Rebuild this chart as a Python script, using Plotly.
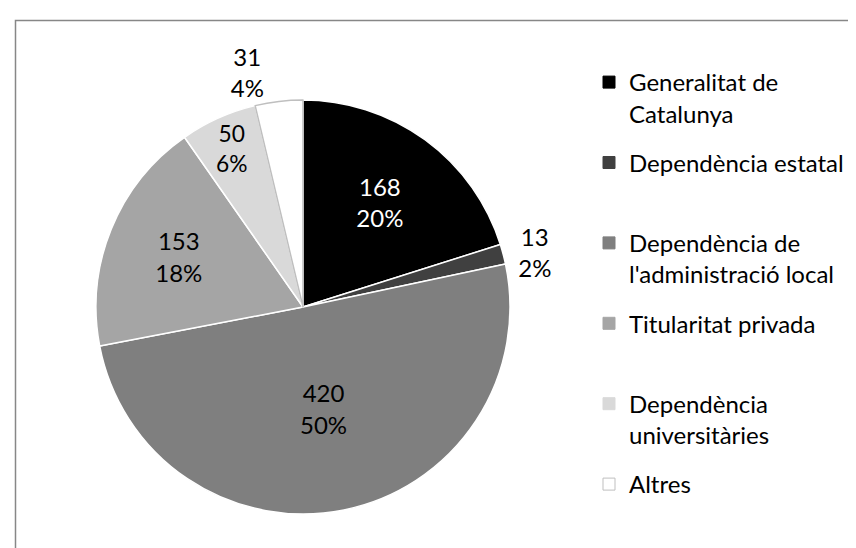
import plotly.graph_objects as go

labels = ["Generalitat de Catalunya", "Dependència estatal", "Dependència de l'administració local",
          "Titularitat privada", "Dependència universitàries", "Altres"]
legend_text = ["Generalitat de<br>Catalunya", "Dependència estatal<br> ", "Dependència de<br>l'administració local",
               "Titularitat privada<br> ", "Dependència<br>universitàries", "Altres<br> "]
values = [168, 13, 420, 153, 50, 31]
colors = ["#000000", "#404040", "#7f7f7f", "#a5a5a5", "#d9d9d9", "#ffffff"]
line_colors = ["#ffffff", "#ffffff", "#ffffff", "#ffffff", "#ffffff", "#bfbfbf"]
text_colors = ["#ffffff", "#000000", "#000000", "#000000", "#000000", "#000000"]
positions = ["inside", "outside", "inside", "inside", "inside", "outside"]

FONT = "Lato"
FS = 24

fig = go.Figure()
fig.add_trace(go.Pie(
    labels=labels,
    values=values,
    sort=False,
    direction="clockwise",
    rotation=0,
    marker=dict(colors=colors, line=dict(color=line_colors, width=1.5)),
    texttemplate="%{value}<br>%{percent:.0%}",
    textposition=positions,
    insidetextorientation="horizontal",
    textfont=dict(family=FONT, size=FS, color=text_colors),
    outsidetextfont=dict(family=FONT, size=FS, color="#000000"),
    domain=dict(x=[88/856, 502/856], y=[1 - 506/548, 1 - 92/548]),
    hoverinfo="label+value+percent",
    showlegend=False,
))

# legend entries (one per slice, same names and colours)
for i, (name, col, lc) in enumerate(zip(legend_text, colors, line_colors)):
    fig.add_trace(go.Scatter(
        x=[None], y=[None], mode="markers", name=name,
        legendgroup=f"g{i}",
        marker=dict(symbol="square", size=12, color=col,
                    line=dict(color="#bfbfbf" if col == "#ffffff" else col, width=1)),
        hoverinfo="skip",
    ))

fig.update_layout(
    width=856, height=548,
    margin=dict(l=0, r=0, t=0, b=0),
    paper_bgcolor="#ffffff",
    plot_bgcolor="#ffffff",
    xaxis=dict(visible=False),
    yaxis=dict(visible=False),
    showlegend=True,
    legend=dict(
        x=581/856, y=1 - 52/548, xanchor="left", yanchor="top",
        font=dict(family=FONT, size=FS, color="#000000"),
        bgcolor="rgba(0,0,0,0)",
        traceorder="grouped",
        tracegroupgap=15,
        valign="top",
    ),
    shapes=[dict(type="rect", xref="paper", yref="paper",
                 x0=7.5/856, x1=1.2, y0=-0.2, y1=1 - 12.5/548,
                 line=dict(color="#878787", width=1.5), fillcolor="rgba(0,0,0,0)", layer="below")],
)

fig.write_html("out.html")
